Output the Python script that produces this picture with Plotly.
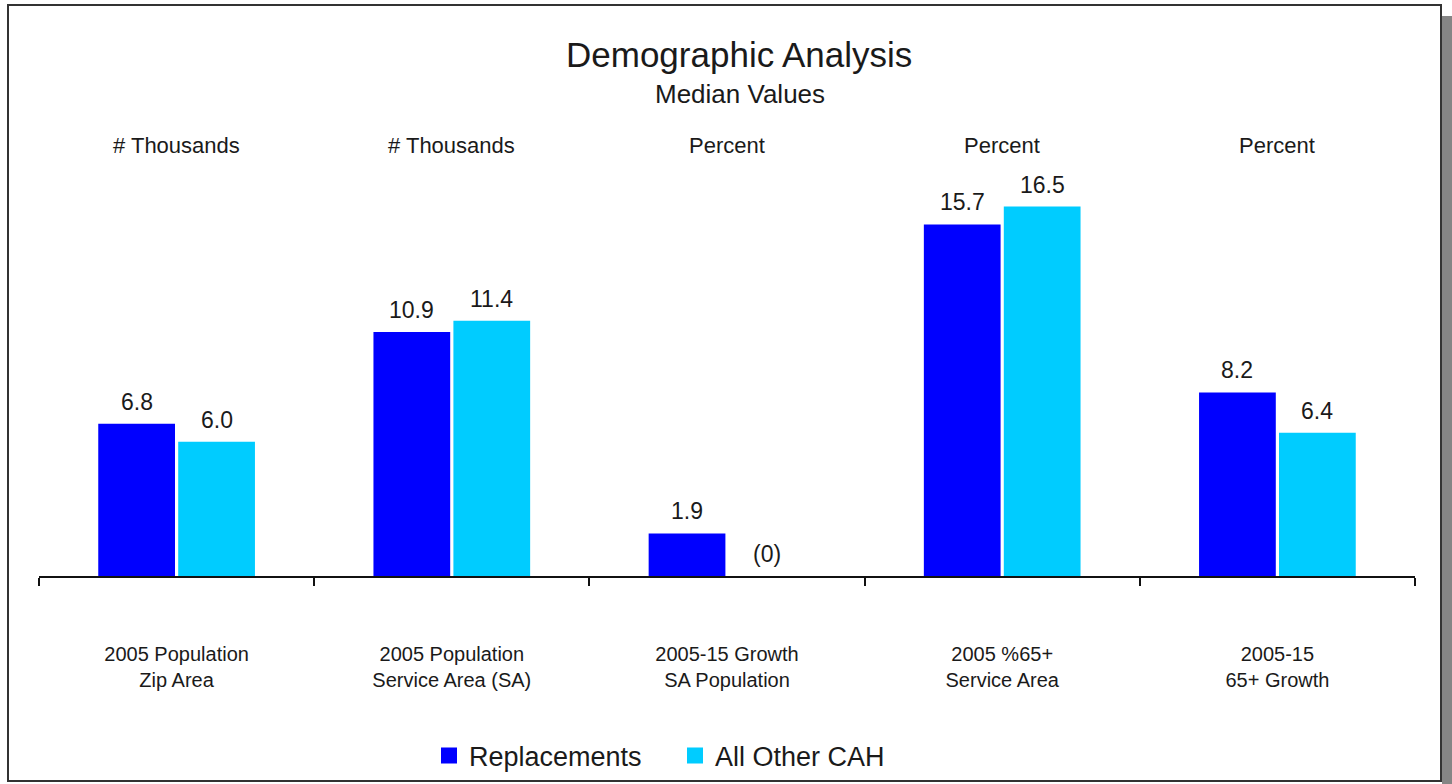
import plotly.graph_objects as go

categories = ["2005 Population<br>Zip Area",
              "2005 Population<br>Service Area (SA)",
              "2005-15 Growth<br>SA Population",
              "2005 %65+<br>Service Area",
              "2005-15<br>65+ Growth"]
units = ["# Thousands", "# Thousands", "Percent", "Percent", "Percent"]
replacements = [6.8, 10.9, 1.9, 15.7, 8.2]
all_other_cah = [6.0, 11.4, 0.0, 16.5, 6.4]

series_names = ["Replacements", "All Other CAH"]
series_colors = ["#0000FF", "#00CCFF"]

FONT = "Liberation Sans, Arial, sans-serif"
TXT = "#1a1a1a"

# layout geometry (pixels)
W, H = 1452, 784
ML, MR, MT, MB = 39, 37, 173, 208
PW, PH = W - ML - MR, H - MT - MB


def px_x(x):
    return (x - ML) / PW


def px_y(y):
    return (H - MB - y) / PH


def fmt(v):
    return f"({abs(v):.0f})" if v <= 0 else f"{v:.1f}"


fig = go.Figure()
for name, vals, col in zip(series_names, [replacements, all_other_cah], series_colors):
    fig.add_trace(go.Bar(name=name, x=categories, y=vals, marker=dict(color=col, line=dict(width=0)),
                         hoverinfo="x+y", showlegend=False, legendgroup=name))
# legend entries with larger square swatches
for name, col in zip(series_names, series_colors):
    fig.add_trace(go.Scatter(name=name, x=[None], y=[None], mode="markers", legendgroup=name,
                             marker=dict(symbol="square", size=16, color=col), showlegend=True))

annotations = []
# data labels
for vals, shift in zip([replacements, all_other_cah], [-40, 40]):
    for c, v in zip(categories, vals):
        annotations.append(dict(x=c, y=max(v, 0), xref="x", yref="y", text=fmt(v),
                                showarrow=False, xshift=shift, yshift=22, yanchor="middle",
                                font=dict(family=FONT, size=23, color=TXT)))
# unit labels above each category
for c, u in zip(categories, units):
    annotations.append(dict(x=c, y=px_y(145), xref="x", yref="paper", text=u, showarrow=False,
                            yanchor="middle", font=dict(family=FONT, size=22, color=TXT)))
# titles
annotations.append(dict(x=px_x(739), y=px_y(55), xref="paper", yref="paper", text="Demographic Analysis",
                        showarrow=False, yanchor="middle", font=dict(family=FONT, size=35, color=TXT)))
annotations.append(dict(x=px_x(740), y=px_y(94), xref="paper", yref="paper", text="Median Values",
                        showarrow=False, yanchor="middle", font=dict(family=FONT, size=26, color=TXT)))

shapes = [
    # right drop shadow
    dict(type="rect", xref="paper", yref="paper", x0=px_x(1442), x1=px_x(1460), y0=px_y(16), y1=px_y(800),
         fillcolor="#858585", line=dict(width=0), layer="below"),
    # frame
    dict(type="rect", xref="paper", yref="paper", x0=px_x(8), x1=px_x(1441), y0=px_y(5), y1=px_y(781),
         fillcolor="white", line=dict(color="#333333", width=2), layer="below"),
]

fig.update_layout(
    width=W, height=H,
    margin=dict(l=ML, r=MR, t=MT, b=MB, autoexpand=False),
    paper_bgcolor="white", plot_bgcolor="rgba(0,0,0,0)",
    barmode="group", bargap=0.419, bargroupgap=0.04,
    font=dict(family=FONT, color=TXT),
    showlegend=True,
    legend=dict(orientation="h", x=px_x(429), xanchor="left", y=px_y(756), yanchor="middle",
                font=dict(family=FONT, size=27, color=TXT), bgcolor="rgba(0,0,0,0)",
                itemwidth=30, entrywidth=201, entrywidthmode="pixels",
                traceorder="normal", itemclick=False, itemdoubleclick=False),
    annotations=annotations,
    shapes=shapes,
)
fig.update_xaxes(type="category", range=[-0.5, 4.5], showline=True, linecolor="#111111", linewidth=1.5,
                 ticks="outside", tickson="boundaries", ticklen=8, tickwidth=1.5, tickcolor="#111111",
                 showgrid=False, zeroline=False, ticklabelstandoff=59, automargin=False,
                 tickfont=dict(family=FONT, size=20, color=TXT))
fig.update_yaxes(range=[0, 18], visible=False, showgrid=False, zeroline=False, automargin=False)

fig.write_html("out.html")
